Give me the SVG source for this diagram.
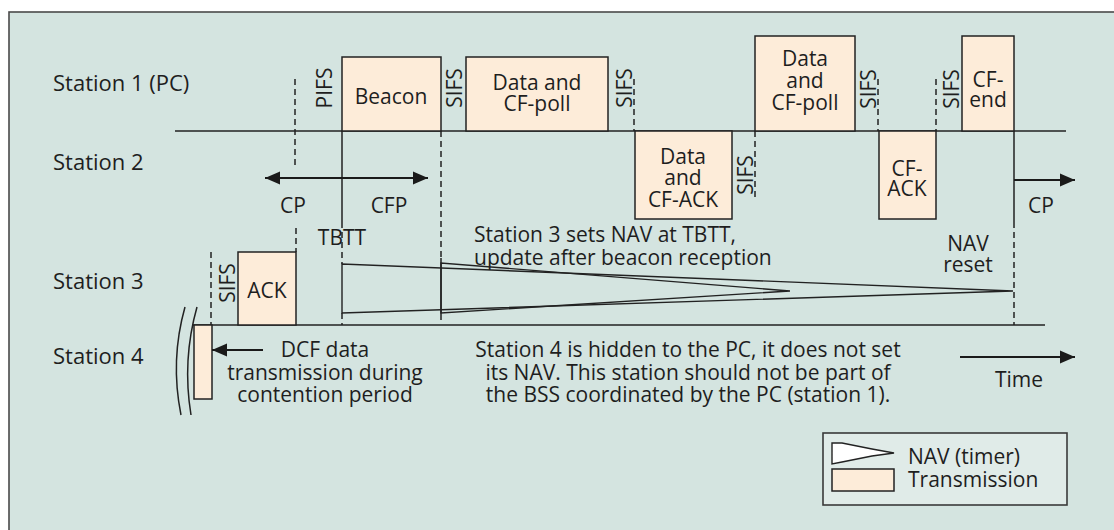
<svg xmlns="http://www.w3.org/2000/svg" width="1114" height="530" viewBox="0 0 1114 530">
  <defs>
    <marker id="head" markerUnits="userSpaceOnUse" markerWidth="16" markerHeight="14" refX="15" refY="7" orient="auto-start-reverse">
      <path d="M0,0.5 L15,7 L0,13.5 z" fill="#1a1a1a"/>
    </marker>
    <style>
      text { font-family: "Open Sans", "Noto Sans", "DejaVu Sans", sans-serif; font-size: 21px; fill: #1e1e1e; }
      .lbl { font-size: 22px; }
      .mid { text-anchor: middle; }
      .box { fill: #fdecd9; stroke: #222; stroke-width: 1.5; }
      .ln { stroke: #222; stroke-width: 1.5; fill: none; }
      .dash { stroke: #222; stroke-width: 1.5; fill: none; stroke-dasharray: 6 4; }
      .nav { stroke: #222; stroke-width: 1.4; fill: none; }
      .arr { stroke: #1a1a1a; stroke-width: 2; fill: none; }
    </style>
  </defs>

  <!-- panel -->
  <rect x="9" y="12" width="1120" height="530" fill="#d4e4e0" stroke="#4a4a4a" stroke-width="1.6"/>

  <!-- station labels -->
  <g id="labels">
    <text class="lbl" x="53" y="91">Station 1 (PC)</text>
    <text class="lbl" x="53" y="170">Station 2</text>
    <text class="lbl" x="53" y="289">Station 3</text>
    <text class="lbl" x="53" y="364">Station 4</text>
  </g>

  <!-- time axes -->
  <g id="axes">
    <line class="ln" x1="175" y1="131" x2="1066" y2="131"/>
    <line class="ln" x1="193" y1="325" x2="1045" y2="325"/>
  </g>

  <!-- transmissions -->
  <g id="beacon">
    <rect class="box" x="342" y="57" width="99" height="74"/>
    <text class="mid" x="391" y="104">Beacon</text>
  </g>
  <g id="data-cf-poll-1">
    <rect class="box" x="466" y="57" width="142" height="74"/>
    <text class="mid" x="537" y="90">Data and</text>
    <text class="mid" x="537" y="111">CF-poll</text>
  </g>
  <g id="data-cf-ack">
    <rect class="box" x="635" y="131" width="97" height="88"/>
    <text class="mid" x="683" y="164">Data</text>
    <text class="mid" x="683" y="185">and</text>
    <text class="mid" x="683" y="207">CF-ACK</text>
  </g>
  <g id="data-cf-poll-2">
    <rect class="box" x="755" y="36" width="100" height="95"/>
    <text class="mid" x="805" y="66">Data</text>
    <text class="mid" x="805" y="88">and</text>
    <text class="mid" x="805" y="110">CF-poll</text>
  </g>
  <g id="cf-ack">
    <rect class="box" x="879" y="131" width="57" height="88"/>
    <text class="mid" x="907" y="176">CF-</text>
    <text class="mid" x="907" y="196">ACK</text>
  </g>
  <g id="cf-end">
    <rect class="box" x="962" y="36" width="52" height="95"/>
    <text class="mid" x="988" y="87">CF-</text>
    <text class="mid" x="988" y="107">end</text>
  </g>
  <g id="ack">
    <rect class="box" x="238" y="252" width="58" height="73"/>
    <text class="mid" x="267" y="298">ACK</text>
  </g>
  <g id="dcf-data">
    <rect class="box" x="194" y="325" width="18" height="74"/>
  </g>

  <!-- interframe spaces -->
  <g id="spaces">
    <text class="mid" transform="translate(332 88) rotate(-90)">PIFS</text>
    <text class="mid" transform="translate(462 88) rotate(-90)">SIFS</text>
    <text class="mid" transform="translate(632 88) rotate(-90)">SIFS</text>
    <text class="mid" transform="translate(753 175) rotate(-90)">SIFS</text>
    <text class="mid" transform="translate(876 89) rotate(-90)">SIFS</text>
    <text class="mid" transform="translate(959 89) rotate(-90)">SIFS</text>
    <text class="mid" transform="translate(235 283) rotate(-90)">SIFS</text>
  </g>

  <!-- connectors: boundaries, NAV timers, arrows -->
  <g id="connectors">
    <line class="dash" x1="295" y1="79" x2="295" y2="165"/>
    <line class="dash" x1="296" y1="228" x2="296" y2="252"/>
    <line class="ln" x1="342" y1="131" x2="342" y2="222"/>
    <line class="dash" x1="342" y1="222" x2="342" y2="264"/>
    <line class="dash" x1="342" y1="313" x2="342" y2="325"/>
    <line class="dash" x1="441" y1="131" x2="441" y2="258"/>
    <line class="ln" x1="441" y1="258" x2="441" y2="320"/>
    <line class="dash" x1="634" y1="79" x2="634" y2="131"/>
    <line class="dash" x1="755" y1="131" x2="755" y2="200"/>
    <line class="dash" x1="878" y1="79" x2="878" y2="131"/>
    <line class="dash" x1="936" y1="79" x2="936" y2="131"/>
    <line class="ln" x1="1014" y1="131" x2="1014" y2="222"/>
    <line class="dash" x1="1014" y1="222" x2="1014" y2="325"/>
    <line class="dash" x1="211" y1="252" x2="211" y2="325"/>

    <!-- NAV set at TBTT -->
    <polyline class="nav" points="1013,291 342,264 342,313 1013,291"/>
    <!-- NAV updated after the beacon -->
    <polyline class="nav" points="790,291 441,263 441,313 790,291"/>

    <line class="arr" x1="265" y1="178" x2="428" y2="178" marker-start="url(#head)" marker-end="url(#head)"/>
    <line class="arr" x1="1014" y1="180" x2="1075" y2="180" marker-end="url(#head)"/>
    <line class="arr" x1="263" y1="350" x2="212" y2="350" marker-end="url(#head)"/>
    <line class="arr" x1="960" y1="357" x2="1075" y2="357" marker-end="url(#head)"/>

    <!-- break marks -->
    <path class="ln" d="M185,307 Q170,360 181,415"/>
    <path class="ln" d="M197,307 Q182,360 191,415"/>
  </g>

  <!-- annotations -->
  <g id="notes">
    <text class="mid" x="293" y="213">CP</text>
    <text class="mid" x="389" y="213">CFP</text>
    <text class="mid" x="1041" y="213">CP</text>
    <text class="mid" x="342" y="245">TBTT</text>
    <text x="474" y="242">Station 3 sets NAV at TBTT,</text>
    <text x="474" y="265">update after beacon reception</text>
    <text class="mid" x="968" y="251">NAV</text>
    <text class="mid" x="968" y="272">reset</text>
    <text class="mid" x="325" y="357">DCF data</text>
    <text class="mid" x="325" y="380">transmission during</text>
    <text class="mid" x="325" y="402">contention period</text>
    <text class="mid" x="688" y="357">Station 4 is hidden to the PC, it does not set</text>
    <text class="mid" x="688" y="380">its NAV. This station should not be part of</text>
    <text class="mid" x="688" y="402">the BSS coordinated by the PC (station 1).</text>
    <text class="mid" x="1019" y="387">Time</text>
  </g>

  <!-- legend -->
  <g id="legend">
    <rect x="823" y="433" width="244" height="72" fill="#e0ebe8" stroke="#3a3a3a" stroke-width="1.6"/>
    <polygon points="832,443 842,443 872,449 894,453 872,456 842,462 832,464" fill="#ffffff" stroke="#222" stroke-width="1.4"/>
    <rect class="box" x="832" y="469" width="62" height="22"/>
    <text x="908" y="464">NAV (timer)</text>
    <text x="908" y="487">Transmission</text>
  </g>
</svg>
